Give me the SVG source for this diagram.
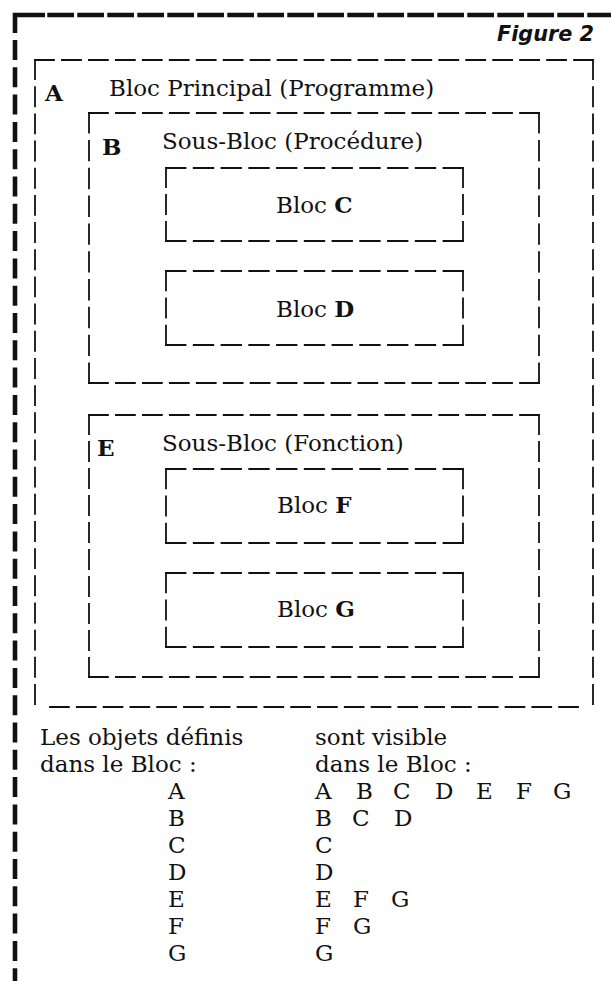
<svg xmlns="http://www.w3.org/2000/svg" width="611" height="981" viewBox="0 0 611 981">
<style>
.bg{fill:#ffffff}
.frame{fill:none;stroke:#111;stroke-width:4.6}
.box{fill:none;stroke:#111;stroke-width:1.8;stroke-dasharray:19 8;stroke-linecap:square}
.t{font-family:"DejaVu Serif","Liberation Serif",serif;font-size:23px;fill:#111}
.b{font-weight:bold}
.fig{font-family:"DejaVu Sans","Liberation Sans",sans-serif;font-size:21px;font-weight:bold;font-style:italic;fill:#111}
</style>
<rect class="bg" x="0" y="0" width="611" height="981"/>
<g id="frame">
<path class="frame" d="M15,33 V15 H45" stroke-linejoin="miter"/>
<path class="frame" d="M47.3,15 H611" style="stroke-dasharray:26.7 3.3"/>
<path class="frame" d="M15,40 V981" style="stroke-dasharray:20 7.3"/>
<text class="fig" x="497" y="40.5" textLength="97" lengthAdjust="spacingAndGlyphs">Figure 2</text>
</g>
<g id="connectors"></g>
<g id="bloc-A">
<path class="box" d="M35,60 H593" pathLength="559"/>
<path class="box" d="M35,60 V704" pathLength="640"/>
<path class="box" d="M593,60 V704" pathLength="640"/>
<path class="box" d="M50,707 H578" pathLength="532"/>
<text class="t b" x="45" y="100.5">A</text>
<text class="t" x="109" y="95.5">Bloc Principal (Programme)</text>
</g>
<g id="bloc-B">
<path class="box" d="M89,113 H539" pathLength="451"/>
<path class="box" d="M89,113 V383" pathLength="262"/>
<path class="box" d="M539,113 V383" pathLength="262"/>
<path class="box" d="M89,383 H539" pathLength="451"/>
<text class="t b" x="102" y="155">B</text>
<text class="t" x="162" y="149">Sous-Bloc (Procédure)</text>
</g>
<g id="bloc-C">
<path class="box" d="M166,168 H463" pathLength="289"/>
<path class="box" d="M166,168 V241" pathLength="73"/>
<path class="box" d="M463,168 V241" pathLength="73"/>
<path class="box" d="M166,241 H463" pathLength="289"/>
<text class="t" x="276" y="212.5">Bloc <tspan class="b">C</tspan></text>
</g>
<g id="bloc-D">
<path class="box" d="M166,271 H463" pathLength="289"/>
<path class="box" d="M166,271 V345" pathLength="73"/>
<path class="box" d="M463,271 V345" pathLength="73"/>
<path class="box" d="M166,345 H463" pathLength="289"/>
<text class="t" x="276" y="316.5">Bloc <tspan class="b">D</tspan></text>
</g>
<g id="bloc-E">
<path class="box" d="M89,415 H539" pathLength="451"/>
<path class="box" d="M89,415 V677" pathLength="262"/>
<path class="box" d="M539,415 V677" pathLength="262"/>
<path class="box" d="M89,677 H539" pathLength="451"/>
<text class="t b" x="97" y="455.5">E</text>
<text class="t" x="162" y="450.5">Sous-Bloc (Fonction)</text>
</g>
<g id="bloc-F">
<path class="box" d="M166,469 H463" pathLength="289"/>
<path class="box" d="M166,469 V543" pathLength="73"/>
<path class="box" d="M463,469 V543" pathLength="73"/>
<path class="box" d="M166,543 H463" pathLength="289"/>
<text class="t" x="277" y="513">Bloc <tspan class="b">F</tspan></text>
</g>
<g id="bloc-G">
<path class="box" d="M166,573 H463" pathLength="289"/>
<path class="box" d="M166,573 V647" pathLength="73"/>
<path class="box" d="M463,573 V647" pathLength="73"/>
<path class="box" d="M166,647 H463" pathLength="289"/>
<text class="t" x="277" y="616.5">Bloc <tspan class="b">G</tspan></text>
</g>
<g id="table">
<text class="t" x="40" y="745">Les objets définis</text>
<text class="t" x="40" y="772">dans le Bloc :</text>
<text class="t" x="315" y="745">sont visible</text>
<text class="t" x="315" y="772">dans le Bloc :</text>
<text class="t" x="168" y="799">A</text>
<text class="t" x="168" y="826">B</text>
<text class="t" x="168" y="853">C</text>
<text class="t" x="168" y="880">D</text>
<text class="t" x="168" y="907">E</text>
<text class="t" x="168" y="934">F</text>
<text class="t" x="168" y="961">G</text>
<text class="t" y="799"><tspan x="315">A</tspan><tspan x="356">B</tspan><tspan x="393">C</tspan><tspan x="435">D</tspan><tspan x="476">E</tspan><tspan x="516">F</tspan><tspan x="553">G</tspan></text>
<text class="t" y="826"><tspan x="315">B</tspan><tspan x="352">C</tspan><tspan x="394">D</tspan></text>
<text class="t" x="315" y="853">C</text>
<text class="t" x="315" y="880">D</text>
<text class="t" y="907"><tspan x="315">E</tspan><tspan x="353">F</tspan><tspan x="391">G</tspan></text>
<text class="t" y="934"><tspan x="315">F</tspan><tspan x="353">G</tspan></text>
<text class="t" x="315" y="961">G</text>
</g>
</svg>
